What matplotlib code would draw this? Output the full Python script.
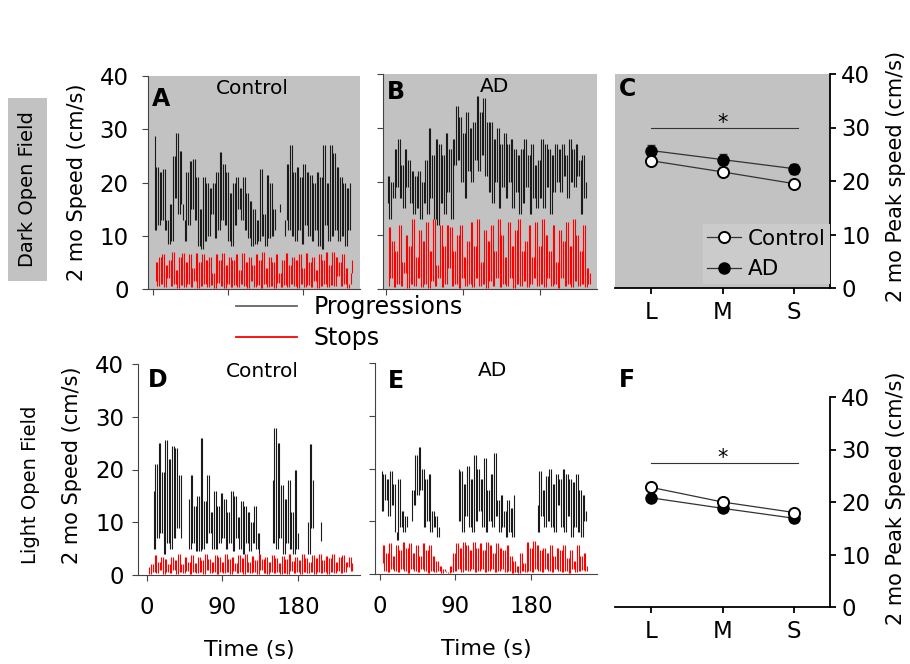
import matplotlib.pyplot as plt
import numpy as np
from matplotlib.lines import Line2D
from matplotlib.patches import Rectangle

plt.rcParams['font.family'] = ['DejaVu Sans']

nan = np.nan
STEP = 2  # seconds between speed samples

# ---- speed traces (cm/s), one sample every STEP seconds ----
# A: dark open field, control
dark_ctrl_prog = [28.7, 11, 23, 12, 22, 13, 22.5, 11, 13, 8.5,
                  16, 9, 25, 17, 29.3, 14, 26, 16, 13, 9,
                  22, 12, 24, 15, 24.5, 13, 21, 8, 15, 7.5,
                  21, 9, 20, 10, 19, 14, 20, 9.5, 22, 11,
                  25.8, 13, 23.5, 12, 22, 9, 18, 8, 20, 12,
                  21, 15, 19, 13, 21, 11, 18, 9.5, 16.5, 8,
                  15, 8.5, 13, 9, 22.5, 10, 14, 8, 21.5, 9.5,
                  20, 10, 15, 11, nan, 14.5, 16, nan, 10, 13,
                  23.5, 11, 27, 10, 22, 9, 23, 11, 21, 8.5,
                  23.5, 12, 22, 10, 21.5, 9, 20, 11, 22, 8,
                  21, 7.5, 27, 12, 20, 9, 27, 10, 25.5, 11,
                  23, 9, 21, 10, 20, 8, 19, 11, 20]
dark_ctrl_stop = [1.5, 5, 0.5, 6, 1, 6.5, 0.3, 4.5, 2, 5.5,
                  0.5, 7, 1, 3.5, 0.2, 6, 0.8, 6.8, 0.3, 5,
                  1, 6.5, 0.4, 4, 1.5, 6.8, 0.2, 5, 0.6, 6.5,
                  1, 5.5, 0.3, 6, 0.8, 3, 0.2, 6.5, 1.2, 5.5,
                  0.5, 6.8, 0.2, 4.5, 1, 6, 0.4, 5.5, 0.8, 6.5,
                  0.3, 3.5, 1, 6.8, 0.5, 5, 0.2, 6, 1.5, 4.5,
                  0.4, 6.5, 0.8, 5.5, 0.2, 6.9, 1, 4, 0.3, 6,
                  0.6, 5, 0.2, 6.5, 1.2, 3, 0.4, 5.5, 0.8, 6.8,
                  0.3, 4.5, 1, 6, 0.5, 5.5, 0.2, 6.5, 1, 4,
                  0.4, 6.8, 0.8, 5, 0.3, 6, 1.5, 3.5, 0.2, 6.5,
                  0.6, 5.5, 1, 6.9, 0.3, 4.5, 0.8, 7, 0.5, 6,
                  2.5, 5, 0.5, 6.5, 1, 4, 0.2, 1, 3, 5.5]

# B: dark open field, AD
dark_ad_prog = [16, 21, 13, 20, 17, 26, 19, 28, 17, 23,
                15, 26, 19, 24, 16, 22, 14, 21, 15, 22,
                13, 20, 16, 24, 14, 30, 17, 25, 13, 28,
                12, 27, 16, 25, 14, 29, 18, 26, 13, 28,
                23, 34, 24, 32, 20, 29, 17, 33, 22, 30,
                20, 31, 24, 36, 22, 33, 25, 35.5, 21, 31,
                18, 31, 16, 28, 20, 30, 15, 27, 19, 29,
                17, 27, 20, 28, 15, 26, 18, 25, 14, 26,
                16, 28, 19, 25, 14, 27, 17, 23, 15, 24,
                17, 28, 15, 27, 19, 26, 14, 25, 18, 27,
                20, 26, 18, 27, 21, 25, 17, 28, 20, 26,
                19, 27, 21, 24, 14, 25, 17, 20]
dark_ad_stop = [0.5, 11.5, 2, 9, 0.3, 7, 1, 12, 0.5, 5,
                3, 10, 0.2, 8, 1, 13, 0.5, 6, 2, 11,
                0.3, 9, 1, 12.5, 0.2, 7, 1.5, 13, 0.5, 4.5,
                2, 12, 0.3, 8, 1, 12, 4, 11.5, 0.5, 7,
                1, 10, 0.2, 12, 2, 6, 0.5, 9, 1, 12.5,
                0.3, 8, 2, 13, 0.5, 5, 1, 11, 0.2, 9,
                1.5, 12, 0.5, 7, 2, 13, 0.3, 10, 1, 6,
                0.5, 12.5, 2, 8, 0.2, 11, 1, 13, 0.5, 7,
                1.5, 9, 0.3, 12, 1, 6, 2, 12.5, 0.5, 8,
                1, 13, 0.3, 10, 2, 7, 0.5, 12, 1, 5,
                0.2, 11, 2, 9, 0.5, 12.5, 1, 8, 0.3, 13,
                1.5, 10, 0.5, 7, 1, 12, 0.3, 4, 1, 3]

# D: light open field, control
light_ctrl_prog = [nan, nan, nan, 16, 5, 21, 7, 25, 8, 19.5,
                   4, 25.5, 6, 22, 5, 24.5, 7, 24, 9, 19,
                   7, nan, nan, nan, 14.5, 5, 19, 6, 13, 4.5,
                   15, 4.5, 26, 5, 14, 6, 19, 8, 12, 5,
                   16, 5, 13, 6, 15.5, 7, 14.5, 5, 12, 6,
                   16, 4.5, 15, 7, 11, 5, 14, 4, 13, 6,
                   12, 4.5, 10, 6, 13, 5, 8, 4, nan, nan,
                   nan, nan, nan, nan, 18, 6, 27.8, 5, 25, 7,
                   17, 4, 14.5, 6, 18, 5, 12, 4, 20, 5,
                   8, nan, nan, nan, nan, 10, 4, 24.8, 9, 18,
                   nan, nan, nan, 10, 6.5]
light_ctrl_stop = [1.5, 0.2, 2, 0.5, 3.8, 0.3, 2.5, 1, 3.5, 0.2,
                   3, 0.5, 2, 0.3, 3.5, 1, 2.8, 0.2, 3.9, 0.5,
                   2, 0.3, 3.5, 0.8, 2.5, 0.2, 3.8, 0.5, 2.2, 0.3,
                   3.5, 0.5, 2.8, 0.2, 3.9, 1, 3, 0.3, 2.5, 0.5,
                   3.8, 0.2, 3.5, 0.6, 2.5, 0.3, 3.9, 0.5, 3, 0.2,
                   3.5, 0.8, 2.2, 0.3, 3.8, 0.5, 3.2, 0.2, 3.9, 0.6,
                   2.5, 0.3, 3.6, 0.5, 2.8, 0.2, 3.9, 1, 3, 0.4,
                   3.5, 0.2, 2.5, 0.6, 3.8, 0.3, 3.2, 0.5, 2.2, 0.2,
                   3.6, 0.4, 3, 0.2, 3.9, 0.8, 2.6, 0.3, 3.5, 0.5,
                   2.8, 0.2, 3.9, 0.6, 3.2, 0.3, 2.5, 0.5, 3.8, 0.2,
                   3.3, 0.5, 3.9, 0.3, 2.8, 0.6, 3.6, 0.2, 3.2, 0.5,
                   3.9, 0.3, 2.5, 0.8, 3.5, 0.3, 3.8, 0.5, 2.5, 1.5,
                   3.5, 0.8, 2.2]

# E: light open field, AD
light_ad_prog = [19.5, 12, 19, 14, 18, 11, 19.5, 13, 17, 8,
                 6.5, 18, 9, 12, 8, 11, 9, nan, 10, 16,
                 13, 22.5, 15, 24, 16, 20, 9, 18, 10, 19,
                 8, 12, 9, 11, 7, 9, nan, nan, nan, nan,
                 nan, 7.5, nan, nan, nan, nan, 20, 10, 19.5, 8,
                 17, 11, 20.5, 9, 18, 8, 22.5, 10, 20, 12,
                 18, 9, 22, 8, 16, 10, 19, 9, 23, 11,
                 14, 8, 15, 9, 12, 7, 14, 8, 12.5, 7,
                 15, nan, nan, nan, nan, nan, nan, nan, nan, nan,
                 nan, nan, nan, 13, 8, 19.5, 11, 16, 9, 18.5,
                 10, 20, 9, 17, 8, 19, 13, 18, 9, 20,
                 8, 19, 11, 18, 7, 17.5, 9, 19, 8, 16,
                 7, 15, 10, 12]
light_ad_stop = [2, 5.5, 0.5, 4, 0.3, 5.8, 1, 3.5, 0.5, 5.5,
                 0.3, 4.5, 1, 6, 0.5, 5, 0.2, 5.8, 1, 4,
                 0.5, 5.5, 0.3, 3.5, 1, 5.8, 0.5, 4.5, 0.2, 5.5,
                 0.5, 3.5, 0.3, 2.5, 0.5, 1.5, 0.2, 1, 0.5, 0.3,
                 0.2, 1.5, 0.3, 4, 0.5, 5.8, 1, 5, 0.3, 6,
                 0.8, 5.5, 0.5, 4.5, 1, 6, 0.3, 5, 0.5, 5.8,
                 1, 4.5, 0.3, 6, 0.5, 5.5, 1, 4, 0.3, 5.8,
                 0.5, 5, 1, 4.5, 0.3, 5.5, 0.5, 3.5, 0.2, 2.5,
                 0.3, 1.5, 0.2, 4, 0.5, 2, 0.3, 6, 0.5, 5,
                 0.3, 6.2, 1, 5.5, 0.5, 4.5, 0.3, 5, 1, 4,
                 0.5, 5.5, 0.3, 3.5, 1, 5, 0.5, 4.5, 0.3, 5.5,
                 0.5, 3, 0.2, 4.5, 1, 2.5, 0.3, 5.5, 0.5, 3.5,
                 0.8, 4, 0.5, 1.5]

# ---- peak speed by path size ----
sizes = ['L', 'M', 'S']
dark_ctrl_peak = [23.8, 21.7, 19.5]
dark_ctrl_err = [0.5, 0.5, 0.5]
dark_ad_peak = [25.7, 24.0, 22.3]
dark_ad_err = [1.0, 1.0, 0.9]
light_ctrl_peak = [22.8, 20.0, 18.0]
light_ctrl_err = [0.5, 0.5, 0.5]
light_ad_peak = [20.8, 18.8, 16.9]
light_ad_err = [0.7, 0.7, 0.7]

GRAY = '#c2c2c2'
PROG_COLOR = '#1a1a1a'
STOP_COLOR = '#ff0000'
TICK_SIZE = 16.5

W, H = 910, 664
fig = plt.figure(figsize=(W / 100, H / 100), dpi=100)


def rect(left, top, right, bottom):
    return [left / W, 1 - bottom / H, (right - left) / W, (bottom - top) / H]


def draw_trace(ax, values, start, color):
    # dense trace: each swing between consecutive samples drawn as a vertical stroke
    v = np.asarray(values, dtype=float)
    t = np.arange(len(v)) * STEP + start
    ax.vlines(t[1:], np.fmin(v[:-1], v[1:]), np.fmax(v[:-1], v[1:]), color=color, lw=0.8)


def trace_panel(r, face, xlim, prog, stop, letter, title, title_xy, letter_xy,
                ylabels=False, xlabels=False, ypad=8):
    ax = fig.add_axes(r, facecolor=face)
    draw_trace(ax, stop, 1, STOP_COLOR)
    draw_trace(ax, prog, 0, PROG_COLOR)
    ax.set_xlim(*xlim)
    ax.set_ylim(0, 40)
    ax.set_xticks([0, 90, 180])
    ax.set_yticks([0, 10, 20, 30, 40])
    for s in ['top', 'right']:
        ax.spines[s].set_visible(False)
    for s in ['left', 'bottom']:
        ax.spines[s].set_color('#444444')
    ax.tick_params(direction='out', length=4, color='#444444',
                   labelsize=TICK_SIZE, labelleft=ylabels, labelbottom=xlabels)
    ax.tick_params(axis='x', pad=11)
    ax.tick_params(axis='y', pad=ypad)
    ax.text(letter_xy[0], letter_xy[1], letter, transform=ax.transAxes,
            fontsize=17, fontweight='bold', va='top', ha='left')
    ax.text(title_xy[0], title_xy[1], title, transform=ax.transAxes,
            fontsize=14.5, va='top', ha='center')
    return ax


def peak_panel(r, face, ctrl, ctrl_err, ad, ad_err, sig_y, letter, letter_y, ylabel):
    ax = fig.add_axes(r, facecolor=face)
    x = np.arange(len(sizes))
    ax.errorbar(x, ad, yerr=ad_err, color='#333333', lw=0.9, capsize=3,
                marker='o', ms=8, mfc='black', mec='black', zorder=3)
    ax.errorbar(x, ctrl, yerr=ctrl_err, color='#333333', lw=0.9, capsize=3,
                marker='o', ms=8, mfc='white', mec='black', mew=1.4, zorder=4)
    ax.plot([x[0], x[-1] + 0.05], [sig_y, sig_y], color='#333333', lw=0.8)
    ax.text((x[0] + x[-1]) / 2, sig_y - 1.0, '*', ha='center', va='bottom', fontsize=15)
    ax.set_xlim(-0.5, 2.5)
    ax.set_ylim(0, 40)
    ax.set_xticks(x)
    ax.set_xticklabels(sizes)
    ax.set_yticks([0, 10, 20, 30, 40])
    ax.yaxis.tick_right()
    ax.yaxis.set_label_position('right')
    for s in ['top', 'left']:
        ax.spines[s].set_visible(False)
    ax.spines['right'].set_linewidth(1.3)
    ax.spines['bottom'].set_linewidth(1.3)
    ax.tick_params(direction='out', length=4, width=1.3, labelsize=TICK_SIZE)
    ax.tick_params(axis='x', pad=5)
    ax.tick_params(axis='y', pad=4)
    ax.set_ylabel(ylabel, fontsize=15)
    ax.yaxis.set_label_coords(1.262, 0.52)
    ax.text(0.02, letter_y, letter, transform=ax.transAxes,
            fontsize=17, fontweight='bold', va='top', ha='left')
    return ax


# ---- dark open field ----
axA = trace_panel(rect(148, 76, 360, 289), GRAY, (-6, 248), dark_ctrl_prog, dark_ctrl_stop,
                  'A', 'Control', (0.49, 0.985), (0.02, 0.95), ylabels=True, ypad=10)
axA.set_ylabel('2 mo Speed (cm/s)', fontsize=15)
axA.yaxis.set_label_coords(-0.288, 0.5)

axB = trace_panel(rect(383, 74, 597, 289), GRAY, (-3.5, 247), dark_ad_prog, dark_ad_stop,
                  'B', 'AD', (0.52, 0.985), (0.02, 0.97))

axC = peak_panel(rect(615, 74, 830, 288), GRAY, dark_ctrl_peak, dark_ctrl_err,
                 dark_ad_peak, dark_ad_err, 30, 'C', 0.985, '2 mo Peak speed (cm/s)')
key = [Line2D([], [], color='#333333', lw=0.9, marker='o', ms=8, mfc='white', mec='black', mew=1.4),
       Line2D([], [], color='#333333', lw=0.9, marker='o', ms=8, mfc='black', mec='black')]
axC.legend(key, ['Control', 'AD'], loc='lower right', bbox_to_anchor=(1.0, 0.02),
           fontsize=15.5, frameon=True, facecolor='#cbcbcb', edgecolor='none', framealpha=1,
           borderaxespad=0, borderpad=0.2, handlelength=1.6, handletextpad=0.3,
           labelspacing=0.5, fancybox=False)

# ---- light open field ----
axD = trace_panel(rect(138, 364, 360, 575), 'white', (-10.7, 254), light_ctrl_prog, light_ctrl_stop,
                  'D', 'Control', (0.56, 1.01), (0.045, 0.98), ylabels=True, xlabels=True, ypad=6)
axD.set_ylabel('2 mo Speed (cm/s)', fontsize=15)
axD.yaxis.set_label_coords(-0.252, 0.52)
axD.set_xlabel('Time (s)', fontsize=16, labelpad=15)

axE = trace_panel(rect(375, 363, 597, 574), 'white', (-6, 259), light_ad_prog, light_ad_stop,
                  'E', 'AD', (0.53, 1.01), (0.06, 0.97), xlabels=True)
axE.set_xlabel('Time (s)', fontsize=16, labelpad=15)

axF = peak_panel(rect(615, 397, 830, 607), 'white', light_ctrl_peak, light_ctrl_err,
                 light_ad_peak, light_ad_err, 27.5, 'F', 1.14, '2 mo Peak Speed (cm/s)')

# ---- row labels ----
fig.add_artist(Rectangle((8 / W, 1 - 281 / H), 39 / W, 183 / H, transform=fig.transFigure,
                         facecolor=GRAY, edgecolor='none'))
fig.text(27.5 / W, 1 - 189.5 / H, 'Dark Open Field', rotation=90, ha='center', va='center',
         fontsize=14)
fig.text(31 / W, 1 - 485 / H, 'Light Open Field', rotation=90, ha='center', va='center',
         fontsize=14)

# ---- trace legend ----
trace_handles = [Line2D([], [], color='#666666', lw=1.3), Line2D([], [], color=STOP_COLOR, lw=1.3)]
fig.legend(trace_handles, ['Progressions', 'Stops'], loc='upper left',
           bbox_to_anchor=(236 / W, 1 - 295 / H), frameon=False, fontsize=17,
           borderpad=0, borderaxespad=0, handlelength=2.6, handletextpad=0.7,
           labelspacing=0.3)

fig.savefig('out.png', dpi=100)
